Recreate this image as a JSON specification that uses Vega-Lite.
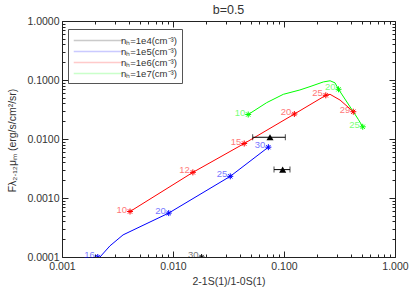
{
  "$schema": "https://vega.github.io/schema/vega-lite/v6.json",
  "width": 333,
  "height": 236,
  "autosize": "none",
  "padding": {"left": 62, "top": 21, "right": 20, "bottom": 40},
  "background": "white",
  "title": {"text": "b=0.5", "fontSize": 12.5, "font": "Liberation Sans", "fontWeight": "normal", "color": "#333", "offset": 0},
  "config": {"view": {"stroke": null}, "font": "Liberation Sans"},
  "datasets": {
    "curves": [
      {"s": "1e5", "i": 1, "x": 0.0022, "y": 0.0001},
      {"s": "1e5", "i": 2, "x": 0.0027, "y": 0.000154},
      {"s": "1e5", "i": 3, "x": 0.00355, "y": 0.000237},
      {"s": "1e5", "i": 4, "x": 0.00537, "y": 0.000344},
      {"s": "1e5", "i": 5, "x": 0.00915, "y": 0.000555},
      {"s": "1e5", "i": 6, "x": 0.0328, "y": 0.00233},
      {"s": "1e5", "i": 7, "x": 0.0723, "y": 0.00727},
      {"s": "1e6", "i": 1, "x": 0.0041, "y": 0.00059},
      {"s": "1e6", "i": 2, "x": 0.0151, "y": 0.00272},
      {"s": "1e6", "i": 3, "x": 0.0438, "y": 0.00838},
      {"s": "1e6", "i": 4, "x": 0.124, "y": 0.0265},
      {"s": "1e6", "i": 5, "x": 0.238, "y": 0.055},
      {"s": "1e6", "i": 6, "x": 0.26, "y": 0.0572},
      {"s": "1e6", "i": 7, "x": 0.32, "y": 0.0457},
      {"s": "1e6", "i": 8, "x": 0.421, "y": 0.029},
      {"s": "1e7", "i": 1, "x": 0.0476, "y": 0.026},
      {"s": "1e7", "i": 2, "x": 0.0698, "y": 0.0413},
      {"s": "1e7", "i": 3, "x": 0.0986, "y": 0.0572},
      {"s": "1e7", "i": 4, "x": 0.139, "y": 0.0678},
      {"s": "1e7", "i": 5, "x": 0.1715, "y": 0.0773},
      {"s": "1e7", "i": 6, "x": 0.226, "y": 0.0927},
      {"s": "1e7", "i": 7, "x": 0.26, "y": 0.097},
      {"s": "1e7", "i": 8, "x": 0.288, "y": 0.0895},
      {"s": "1e7", "i": 9, "x": 0.31, "y": 0.0696},
      {"s": "1e7", "i": 10, "x": 0.421, "y": 0.029},
      {"s": "1e7", "i": 11, "x": 0.467, "y": 0.0215},
      {"s": "1e7", "i": 12, "x": 0.512, "y": 0.0161}
    ],
    "markers": [
      {"s": "1e4", "lab": "30", "x": 0.0181, "y": 0.0001},
      {"s": "1e5", "lab": "16", "x": 0.0021, "y": 0.0001},
      {"s": "1e5", "lab": "20", "x": 0.00915, "y": 0.000555},
      {"s": "1e5", "lab": "25", "x": 0.0328, "y": 0.00233},
      {"s": "1e5", "lab": "30", "x": 0.0723, "y": 0.00727},
      {"s": "1e6", "lab": "10", "x": 0.0041, "y": 0.00059},
      {"s": "1e6", "lab": "12", "x": 0.0151, "y": 0.00272},
      {"s": "1e6", "lab": "15", "x": 0.0438, "y": 0.00838},
      {"s": "1e6", "lab": "20", "x": 0.124, "y": 0.0265},
      {"s": "1e6", "lab": "25", "x": 0.238, "y": 0.055},
      {"s": "1e6", "lab": "29", "x": 0.421, "y": 0.029},
      {"s": "1e7", "lab": "10", "x": 0.0476, "y": 0.026},
      {"s": "1e7", "lab": "20", "x": 0.31, "y": 0.0696},
      {"s": "1e7", "lab": "25", "x": 0.512, "y": 0.0161}
    ],
    "obs": [
      {"x": 0.0748, "y": 0.0107, "xlo": 0.0522, "xhi": 0.1028},
      {"x": 0.0973, "y": 0.00303, "xlo": 0.0813, "xhi": 0.1132}
    ]
  },
  "resolve": {"axis": {"x": "independent", "y": "independent"}},
  "layer": [
    {
      "data": {"name": "curves"},
      "mark": {"type": "line", "strokeWidth": 1, "clip": true},
      "encoding": {
        "x": {"field": "x", "type": "quantitative",
          "scale": {"type": "log", "domain": [0.001, 1], "nice": false, "zero": false},
          "axis": {"orient": "bottom", "grid": false,
            "values": [0.001,0.002,0.003,0.004,0.005,0.006,0.007,0.008,0.009,0.01,0.02,0.03,0.04,0.05,0.06,0.07,0.08,0.09,0.1,0.2,0.3,0.4,0.5,0.6,0.7,0.8,0.9,1],
            "labelExpr": "abs(log(datum.value)/LN10 - round(log(datum.value)/LN10)) < 0.01 ? format(datum.value, '.3f') : ''",
            "labelOverlap": false, "labelBound": false, "labelFlush": false,
            "tickSize": {"condition": {"test": "abs(log(datum.value)/LN10 - round(log(datum.value)/LN10)) < 0.01", "value": -6}, "value": -3},
            "labelPadding": 10,
            "domainColor": "#222", "tickColor": "#222", "tickWidth": 1,
            "labelFontSize": 10.5, "labelColor": "#333",
            "title": "2-1S(1)/1-0S(1)", "titleFontSize": 10.5, "titleFontWeight": "normal", "titleColor": "#333", "titlePadding": 2}},
        "y": {"field": "y", "type": "quantitative",
          "scale": {"type": "log", "domain": [0.0001, 1], "nice": false, "zero": false},
          "axis": {"orient": "left", "grid": false,
            "values": [0.0001,0.0002,0.0003,0.0004,0.0005,0.0006,0.0007,0.0008,0.0009,0.001,0.002,0.003,0.004,0.005,0.006,0.007,0.008,0.009,0.01,0.02,0.03,0.04,0.05,0.06,0.07,0.08,0.09,0.1,0.2,0.3,0.4,0.5,0.6,0.7,0.8,0.9,1],
            "labelExpr": "abs(log(datum.value)/LN10 - round(log(datum.value)/LN10)) < 0.01 ? format(datum.value, '.4f') : ''",
            "labelOverlap": false, "labelBound": false, "labelFlush": false,
            "tickSize": {"condition": {"test": "abs(log(datum.value)/LN10 - round(log(datum.value)/LN10)) < 0.01", "value": -6}, "value": -3},
            "labelPadding": 9,
            "domainColor": "#222", "tickColor": "#222", "tickWidth": 1,
            "labelFontSize": 10.5, "labelColor": "#333",
            "title": "Fλ₂.₁₂μₘ (erg/s/cm²/sr)", "titleFontSize": 10.5, "titleFontWeight": "normal", "titleColor": "#333",
            "titleX": -50, "titleY": 119, "titleBaseline": "middle", "titleAlign": "center", "titleAngle": -90}},
        "color": {"field": "s", "type": "nominal",
          "scale": {"domain": ["1e4", "1e5", "1e6", "1e7"], "range": ["#000000", "#0000ff", "#ff0000", "#00ff00"]},
          "legend": {"orient": "none", "legendX": 6, "legendY": 8, "title": null,
            "symbolType": "M-4.5,0L4.5,0", "symbolStrokeWidth": 1.5, "symbolSize": 121, "symbolOffset": 19,
            "labelFontSize": 9.5, "labelColor": "#333", "padding": 5, "strokeColor": "#555", "fillColor": "white",
            "rowPadding": -2, "labelOffset": 16, "offset": 0,
            "labelExpr": "'nₕ=' + datum.label + '(cm⁻³)'",
            "encode": {"symbols": {"update": {"strokeOpacity": {"value": 0.45}, "opacity": {"value": 0.45}}}}}},
        "order": {"field": "i", "type": "quantitative"}
      }
    },
    {
      "data": {"name": "markers"},
      "mark": {"type": "point", "shape": "M-1,0L1,0M0,-1L0,1M-0.7,-0.7L0.7,0.7M-0.7,0.7L0.7,-0.7", "filled": false, "size": 36, "strokeWidth": 1, "opacity": 1, "clip": true},
      "encoding": {
        "x": {"field": "x", "type": "quantitative", "scale": {"type": "log", "domain": [0.001, 1], "nice": false, "zero": false}, "axis": null},
        "y": {"field": "y", "type": "quantitative", "scale": {"type": "log", "domain": [0.0001, 1], "nice": false, "zero": false}, "axis": null},
        "color": {"field": "s", "type": "nominal"}
      }
    },
    {
      "data": {"name": "markers"},
      "mark": {"type": "text", "align": "right", "baseline": "middle", "dx": -3, "dy": -2, "fontSize": 9.5, "opacity": 0.55},
      "encoding": {
        "x": {"field": "x", "type": "quantitative", "scale": {"type": "log", "domain": [0.001, 1], "nice": false, "zero": false}, "axis": null},
        "y": {"field": "y", "type": "quantitative", "scale": {"type": "log", "domain": [0.0001, 1], "nice": false, "zero": false}, "axis": null},
        "color": {"field": "s", "type": "nominal"},
        "text": {"field": "lab"}
      }
    },
    {
      "data": {"name": "obs"},
      "mark": {"type": "rule", "color": "#000", "strokeWidth": 1},
      "encoding": {
        "x": {"field": "xlo", "type": "quantitative", "scale": {"type": "log", "domain": [0.001, 1], "nice": false, "zero": false}, "axis": null},
        "x2": {"field": "xhi"},
        "y": {"field": "y", "type": "quantitative", "scale": {"type": "log", "domain": [0.0001, 1], "nice": false, "zero": false}, "axis": null}
      }
    },
    {
      "data": {"name": "obs"},
      "mark": {"type": "tick", "color": "#000", "orient": "vertical", "size": 6, "thickness": 1},
      "encoding": {
        "x": {"field": "xlo", "type": "quantitative", "scale": {"type": "log", "domain": [0.001, 1], "nice": false, "zero": false}, "axis": null},
        "y": {"field": "y", "type": "quantitative", "scale": {"type": "log", "domain": [0.0001, 1], "nice": false, "zero": false}, "axis": null}
      }
    },
    {
      "data": {"name": "obs"},
      "mark": {"type": "tick", "color": "#000", "orient": "vertical", "size": 6, "thickness": 1},
      "encoding": {
        "x": {"field": "xhi", "type": "quantitative", "scale": {"type": "log", "domain": [0.001, 1], "nice": false, "zero": false}, "axis": null},
        "y": {"field": "y", "type": "quantitative", "scale": {"type": "log", "domain": [0.0001, 1], "nice": false, "zero": false}, "axis": null}
      }
    },
    {
      "data": {"name": "obs"},
      "mark": {"type": "point", "shape": "triangle-up", "filled": true, "color": "#000", "size": 50, "opacity": 1},
      "encoding": {
        "x": {"field": "x", "type": "quantitative", "scale": {"type": "log", "domain": [0.001, 1], "nice": false, "zero": false},
          "axis": {"orient": "top", "grid": false, "labels": false, "title": null,
            "values": [0.001,0.002,0.003,0.004,0.005,0.006,0.007,0.008,0.009,0.01,0.02,0.03,0.04,0.05,0.06,0.07,0.08,0.09,0.1,0.2,0.3,0.4,0.5,0.6,0.7,0.8,0.9,1],
            "tickSize": {"condition": {"test": "abs(log(datum.value)/LN10 - round(log(datum.value)/LN10)) < 0.01", "value": -6}, "value": -3},
            "domainColor": "#222", "tickColor": "#222", "tickWidth": 1}},
        "y": {"field": "y", "type": "quantitative", "scale": {"type": "log", "domain": [0.0001, 1], "nice": false, "zero": false},
          "axis": {"orient": "right", "grid": false, "labels": false, "title": null,
            "values": [0.0001,0.0002,0.0003,0.0004,0.0005,0.0006,0.0007,0.0008,0.0009,0.001,0.002,0.003,0.004,0.005,0.006,0.007,0.008,0.009,0.01,0.02,0.03,0.04,0.05,0.06,0.07,0.08,0.09,0.1,0.2,0.3,0.4,0.5,0.6,0.7,0.8,0.9,1],
            "tickSize": {"condition": {"test": "abs(log(datum.value)/LN10 - round(log(datum.value)/LN10)) < 0.01", "value": -6}, "value": -3},
            "domainColor": "#222", "tickColor": "#222", "tickWidth": 1}}
      }
    }
  ]
}
